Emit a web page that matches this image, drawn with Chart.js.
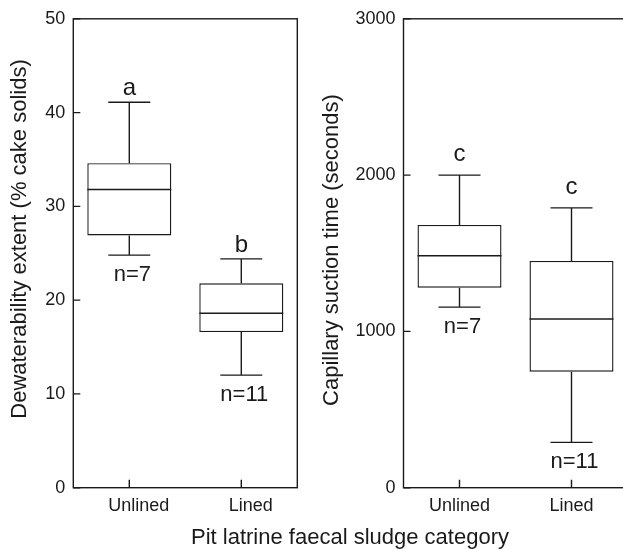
<!DOCTYPE html>
<html>
<head>
<meta charset="utf-8">
<script src="https://cdn.jsdelivr.net/npm/chart.js@4.4.1/dist/chart.umd.min.js"></script>
<style>
  html, body { margin: 0; padding: 0; background: #fff; overflow: hidden; }
  #wrap { position: relative; width: 623px; height: 549px; overflow: hidden; }
  #left { position: absolute; left: 0; top: 0; }
  #right { position: absolute; left: 320px; top: 0; }
  #xtitle {
    position: absolute; left: 0; top: 524px; width: 700px; text-align: center;
    font: 22px 'Liberation Sans', Arial, sans-serif; line-height: 26.4px; color: #1a1a1a;
  }
</style>
</head>
<body>
<div id="wrap">
  <canvas id="left" width="310" height="549"></canvas>
  <canvas id="right" width="320" height="549"></canvas>
  <div id="xtitle">Pit latrine faecal sludge category</div>
</div>
<script>
const categories = ['Unlined', 'Lined'];

// Dewaterability extent (% cake solids)
const dewLow = [24.8, 12.0];
const dewQ1 = [26.9, 16.6];
const dewMedian = [31.8, 18.6];
const dewQ3 = [34.6, 21.8];
const dewHigh = [41.1, 24.4];
const dewLetters = ['a', 'b'];
const dewN = ['n=7', 'n=11'];

// Capillary suction time (seconds)
const cstLow = [1155, 290];
const cstQ1 = [1280, 742];
const cstMedian = [1484, 1079];
const cstQ3 = [1681, 1451];
const cstHigh = [2000, 1790];
const cstLetters = ['c', 'c'];
const cstN = ['n=7', 'n=11'];

const FONT = "'Liberation Sans', Arial, sans-serif";
const INK = '#1a1a1a';

// draws whiskers, medians, frame, inward ticks and the small labels
function boxPlugin(s, cfg) {
    return {
        id: 'boxPlot',
        beforeDatasetsDraw(chart) {
            const { ctx, scales: { x, y } } = chart;
            const capHalf = x.width / categories.length * 0.375 / 2;
            ctx.save();
            ctx.strokeStyle = INK;
            ctx.lineWidth = 1.4;
            categories.forEach((c, i) => {
                const px = x.getPixelForValue(i);
                ctx.beginPath();
                ctx.moveTo(px, y.getPixelForValue(s.low[i]));
                ctx.lineTo(px, y.getPixelForValue(s.q1[i]));
                ctx.moveTo(px, y.getPixelForValue(s.q3[i]));
                ctx.lineTo(px, y.getPixelForValue(s.high[i]));
                [s.low[i], s.high[i]].forEach(v => {
                    const py = y.getPixelForValue(v);
                    ctx.moveTo(px - capHalf, py);
                    ctx.lineTo(px + capHalf, py);
                });
                ctx.stroke();
            });
            ctx.restore();
        },
        afterDatasetsDraw(chart) {
            const { ctx, scales: { y } } = chart;
            const meta = chart.getDatasetMeta(0);
            ctx.save();
            ctx.strokeStyle = INK;
            ctx.lineWidth = 1.4;
            meta.data.forEach((bar, i) => {
                const py = y.getPixelForValue(s.median[i]);
                ctx.beginPath();
                ctx.moveTo(bar.x - bar.width / 2, py);
                ctx.lineTo(bar.x + bar.width / 2, py);
                ctx.stroke();
            });
            ctx.restore();
        },
        afterDraw(chart) {
            const { ctx, chartArea: a, scales: { x, y } } = chart;
            ctx.save();
            ctx.strokeStyle = INK;
            ctx.lineWidth = 1.4;
            ctx.strokeRect(a.left, a.top, a.width, a.height);
            ctx.beginPath();
            y.ticks.forEach(t => {
                const py = y.getPixelForValue(t.value);
                ctx.moveTo(a.left, py);
                ctx.lineTo(a.left + 7, py);
            });
            categories.forEach((c, i) => {
                const px = x.getPixelForValue(i);
                ctx.moveTo(px, a.bottom);
                ctx.lineTo(px, a.bottom - 8);
            });
            ctx.stroke();

            ctx.fillStyle = INK;
            ctx.textAlign = 'center';
            ctx.textBaseline = 'alphabetic';
            categories.forEach((c, i) => {
                const px = x.getPixelForValue(i);
                ctx.font = '24px ' + FONT;
                ctx.fillText(s.letters[i], px, y.getPixelForValue(s.high[i]) - cfg.letterGap);
                ctx.font = '22px ' + FONT;
                ctx.fillText(s.n[i], px + 3, y.getPixelForValue(s.low[i]) + 26);
            });

            // y axis title
            ctx.font = '22px ' + FONT;
            ctx.textBaseline = 'middle';
            ctx.translate(cfg.titleX, cfg.titleY);
            ctx.rotate(-Math.PI / 2);
            ctx.fillText(cfg.title, 0, 0);
            ctx.restore();
        }
    };
}

function makeChart(id, s, cfg) {
    const ctx = document.getElementById(id).getContext('2d');
    return new Chart(ctx, {
        type: 'bar',
        data: {
            labels: categories,
            datasets: [{
                data: s.q1.map((v, i) => [v, s.q3[i]]),
                backgroundColor: '#ffffff',
                borderColor: INK,
                borderWidth: 1.4,
                borderSkipped: false,
                barPercentage: 0.75,
                categoryPercentage: 1
            }]
        },
        options: {
            responsive: false,
            animation: false,
            layout: { padding: { top: cfg.top, right: cfg.right, left: 0, bottom: 0 } },
            plugins: { legend: { display: false }, tooltip: { enabled: false } },
            scales: {
                x: {
                    grid: { display: false, drawTicks: false },
                    border: { display: false },
                    ticks: {
                        color: INK, padding: 7.5, labelOffset: cfg.labelOffset,
                        font: { family: FONT, size: 18 }
                    },
                    afterFit: sc => { sc.height = 61.3; }
                },
                y: {
                    min: 0, max: cfg.max,
                    grid: { display: false, drawTicks: false },
                    border: { display: false },
                    ticks: {
                        stepSize: cfg.step, color: INK, padding: 8,
                        font: { family: FONT, size: 18 },
                        callback: v => String(v)
                    },
                    afterFit: sc => { sc.width = cfg.axisLeft; }
                }
            }
        },
        plugins: [boxPlugin(s, cfg)]
    });
}

makeChart('left', {
    low: dewLow, q1: dewQ1, median: dewMedian, q3: dewQ3, high: dewHigh,
    letters: dewLetters, n: dewN
}, {
    max: 50, step: 10, top: 13.3, right: 12.7, axisLeft: 73.3, labelOffset: 9.5,
    letterGap: 7, title: 'Dewaterability extent (% cake solids)', titleX: 20, titleY: 239
});

makeChart('right', {
    low: cstLow, q1: cstQ1, median: cstMedian, q3: cstQ3, high: cstHigh,
    letters: cstLetters, n: cstN
}, {
    max: 3000, step: 1000, top: 16.5, right: 12.5, axisLeft: 83.5, labelOffset: 0,
    letterGap: 14, title: 'Capillary suction time (seconds)', titleX: 12.3, titleY: 250
});
</script>
</body>
</html>
